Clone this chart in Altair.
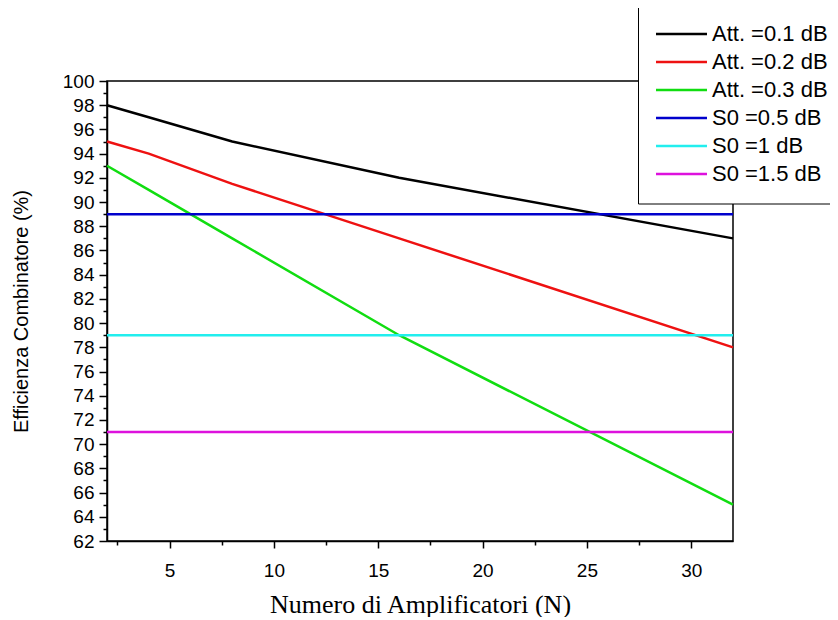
import altair as alt
import pandas as pd

# ---- data ----
series_names = ["Att. =0.1 dB", "Att. =0.2 dB", "Att. =0.3 dB",
                "S0 =0.5 dB", "S0 =1 dB", "S0 =1.5 dB"]
series_colors = ["#000000", "#ee1111", "#11dd11", "#0000cc", "#22eeee", "#dd11dd"]

n_amp = [2, 4, 8, 16, 32]
att_01 = [98, 97, 95, 92, 87]
att_02 = [95, 94, 91.5, 87, 78]
att_03 = [93, 91, 87, 79, 65]

s0_n = [2, 32]
s0_levels = [89, 79, 71]

x_major = [5, 10, 15, 20, 25, 30]
x_minor = [2.5, 7.5, 12.5, 17.5, 22.5, 27.5]
y_major = list(range(62, 101, 2))
y_minor = list(range(63, 100, 2))

rows = []
for name, vals in zip(series_names[:3], [att_01, att_02, att_03]):
    for n, v in zip(n_amp, vals):
        rows.append({"serie": name, "N": n, "eff": v})
for name, lvl in zip(series_names[3:], s0_levels):
    for n in s0_n:
        rows.append({"serie": name, "N": n, "eff": lvl})
df = pd.DataFrame(rows)

x_scale = alt.Scale(domain=[2, 32], nice=False, zero=False)
y_scale = alt.Scale(domain=[62, 100], nice=False, zero=False)

sans = "Liberation Sans"
serif = "Liberation Serif"

major_x = alt.Axis(values=x_major, orient="bottom", tickSize=7, tickColor="black",
                   tickWidth=1.5, domainColor="black", domainWidth=1.5,
                   labelFont=sans, labelFontSize=19, labelColor="black", labelPadding=13,
                   grid=False, title="Numero di Amplificatori (N)", titleFont=serif,
                   titleFontSize=26, titleFontWeight="normal", titleColor="black",
                   titlePadding=11)
major_y = alt.Axis(values=y_major, orient="left", tickSize=8, tickColor="black",
                   tickWidth=1.5, domainColor="black", domainWidth=1.5,
                   labelFont=sans, labelFontSize=19, labelColor="black", labelPadding=5,
                   grid=False, title="Efficienza Combinatore (%)", titleFont=sans,
                   titleFontSize=20, titleFontWeight="normal", titleColor="black",
                   titlePadding=31)
minor_x = alt.Axis(values=x_minor, orient="bottom", tickSize=4, tickColor="black",
                   tickWidth=1.5, domain=False, labels=False, grid=False, title=None)
minor_y = alt.Axis(values=y_minor, orient="left", tickSize=4, tickColor="black",
                   tickWidth=1.5, domain=False, labels=False, grid=False, title=None)

legend = alt.Legend(
    orient="none", legendX=531, legendY=-96.5,
    title=" ", titleFontSize=10, titlePadding=10,
    padding=18, strokeColor="black", fillColor="white",
    symbolType="M-2.5,0H2.5", symbolSize=416, symbolStrokeWidth=2.5,
    symbolOffset=14, labelOffset=19, rowPadding=5,
    labelFont=sans, labelFontSize=22, labelColor="black", labelLimit=400,
)

base = alt.Chart(df)

minor = base.mark_line(opacity=0).encode(
    x=alt.X("N:Q", scale=x_scale, axis=minor_x),
    y=alt.Y("eff:Q", scale=y_scale, axis=minor_y),
    detail="serie:N",
)

lines = base.mark_line(strokeWidth=2.5).encode(
    x=alt.X("N:Q", scale=x_scale, axis=major_x),
    y=alt.Y("eff:Q", scale=y_scale, axis=major_y),
    color=alt.Color("serie:N", scale=alt.Scale(domain=series_names, range=series_colors),
                    sort=series_names, legend=legend),
)

chart = alt.layer(minor, lines).resolve_axis(x="independent", y="independent").properties(
    width=626, height=460,
    autosize=alt.AutoSizeParams(type="none"),
    padding={"left": 99, "top": 73, "right": 97, "bottom": 76},
    background="white",
).configure_view(stroke="black", strokeWidth=1.5)

chart.save("out.html", embed_options={"renderer": "svg", "actions": False})
